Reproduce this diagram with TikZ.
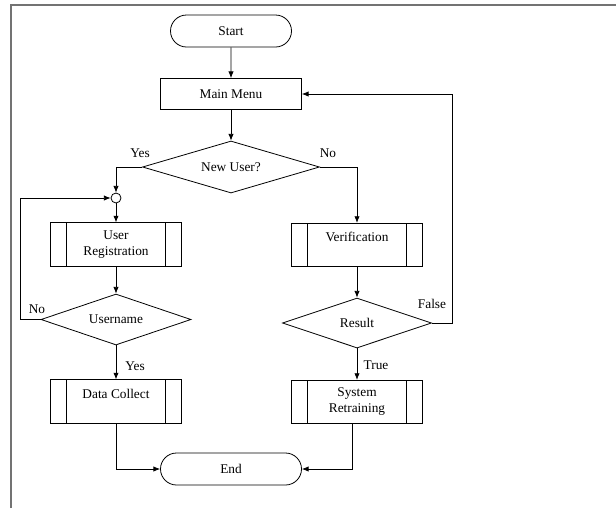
\documentclass[tikz,border=0pt]{standalone}
\usepackage{fontspec}
\setmainfont{Liberation Serif}
\usepackage{tikz}
\usetikzlibrary{arrows.meta, shapes.geometric, shapes.misc, positioning}

\tikzset{
  term/.style={draw, rounded rectangle, minimum width=#1, minimum height=24pt, inner sep=0pt},
  proc/.style={draw, rectangle, minimum width=105.75pt, minimum height=23.25pt, inner sep=0pt},
  subproc/.style={draw, rectangle, minimum width=98pt, minimum height=32.5pt, inner sep=0pt,
                  align=center,
                  path picture={
                    \draw ([xshift=12pt]path picture bounding box.north west)
                       -- ([xshift=12pt]path picture bounding box.south west);
                    \draw ([xshift=-12pt]path picture bounding box.north east)
                       -- ([xshift=-12pt]path picture bounding box.south east);}},
  decide/.style 2 args={draw, diamond, inner sep=0pt, aspect=3,
                  minimum width=#1, minimum height=#2},
  arr/.style={-{Latex[length=5pt,width=4pt]}, line width=0.6pt},
  lbl/.style={font=\normalsize}
}

\begin{document}
\begin{tikzpicture}[x=0.75pt, y=-0.75pt, line width=0.6pt]
  \useasboundingbox (0,0) rectangle (616,508);
  \draw[gray!90!black, line width=1.5pt] (11,508) -- (11,5) -- (616,5);

  % main column
  \node[term=90.75pt] (start) at (231,31) {Start};
  \node[proc] (menu) at (231,94) {Main Menu};
  \node[decide={132.75pt}{39pt}] (newuser) at (231,167) {New User?};

  % left branch
  \node[draw, circle, minimum size=7.5pt, inner sep=0pt] (join) at (116,198) {};
  \node[subproc] (reg) at (116,244.5) {User\\Registration};
  \node[decide={112.5pt}{38.25pt}] (uname) at (116,319.5) {Username};
  \node[subproc] (collect) at (116,401.5) {Data Collect\\\mbox{}};

  % right branch
  \node[subproc] (verif) at (357,245) {Verification\\\mbox{}};
  \node[decide={111.75pt}{37.5pt}] (result) at (357,323) {Result};
  \node[subproc] (retrain) at (357,402) {System\\Retraining};

  \node[term=105.75pt] (stop) at (231,469) {End};

  \coordinate (loopL) at (20,319.5);
  \coordinate (loopR) at (452,323);

  % connectors
  \draw[arr] (start) -- (menu);
  \draw[arr] (menu) -- (newuser);
  \draw[arr] (newuser.west) -| (join);
  \draw[arr] (newuser.east) -| (verif);
  \draw[arr] (join) -- (reg);
  \draw[arr] (reg) -- (uname);
  \draw[arr] (uname.west) -- (loopL) |- (join.west);
  \draw[arr] (uname) -- (collect);
  \draw[arr] (verif) -- (result);
  \draw[arr] (result.east) -- (loopR) |- (menu.east);
  \draw[arr] (result) -- (retrain);
  \draw[arr] (collect) |- (stop);
  \draw[arr] ([xshift=-3.75pt]retrain.south) |- (stop.east);

  % branch labels
  \node[lbl] (yes1) at (140,153) {Yes};
  \node[lbl] (no1) at (328,153) {No};
  \node[lbl] (no2) at (37,309) {No};
  \node[lbl] (yes2) at (135,366) {Yes};
  \node[lbl] (false1) at (432,304) {False};
  \node[lbl] (true1) at (376,365) {True};
\end{tikzpicture}
\end{document}
